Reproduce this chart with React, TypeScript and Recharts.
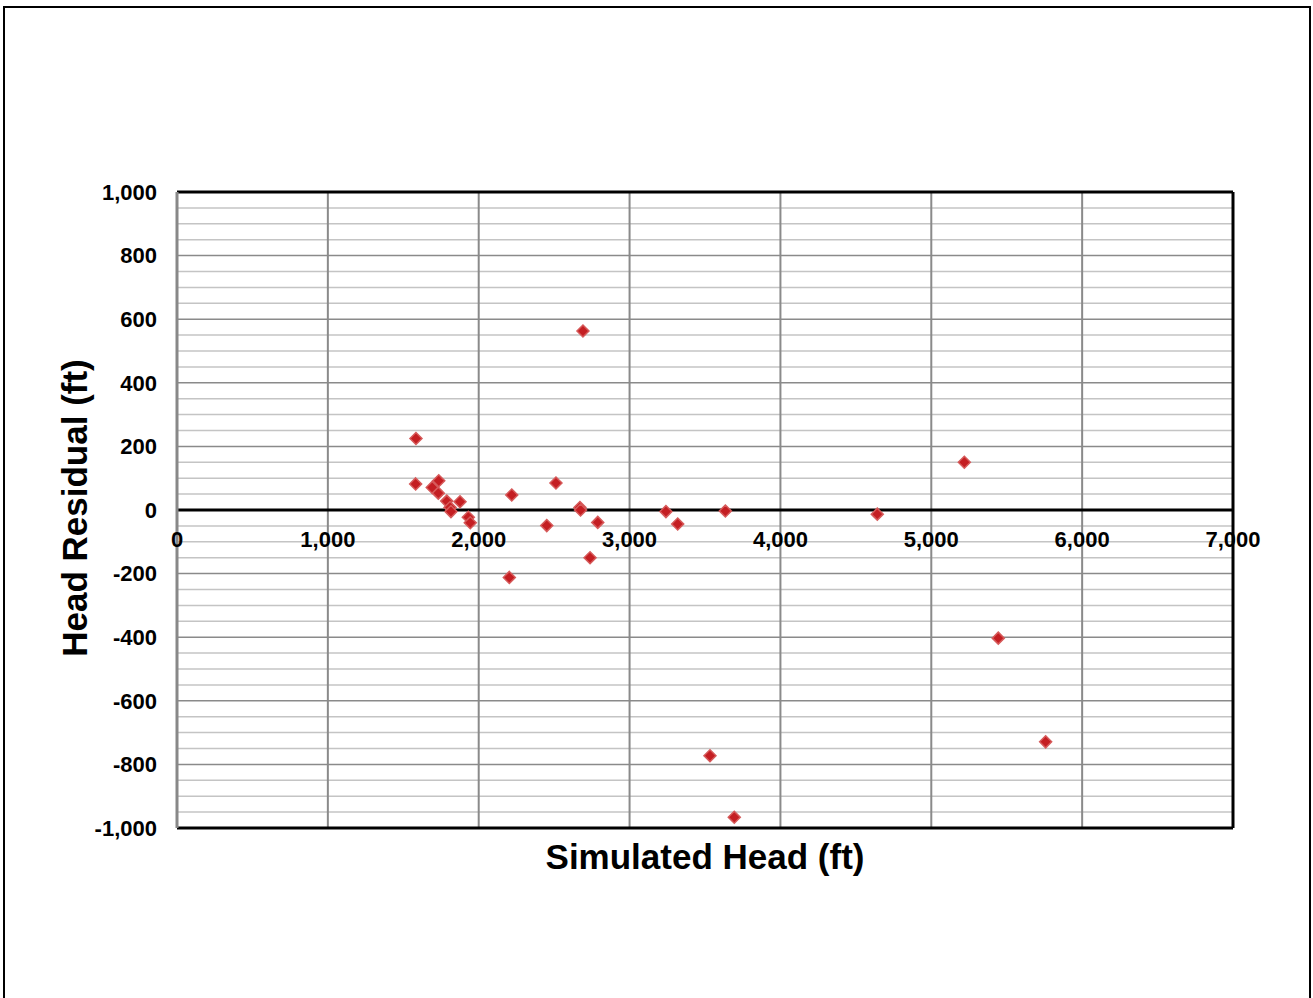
import { ScatterChart, Scatter, XAxis, YAxis, ReferenceLine } from 'recharts';

// simulated head (ft) and head residual (ft)
const simHead = [
  1584, 1582, 1692, 1735, 1732, 1788, 1810, 1816, 1876, 1931, 1944,
  2219, 2203, 2451, 2512, 2671, 2675, 2789, 2738, 2691,
  3241, 3319, 3635, 4642, 5219, 5444, 5758, 3533, 3694,
];
const residual = [
  225, 82, 71, 92, 53, 28, 8, -5, 26, -23, -40,
  47, -212, -49, 85, 8, 0, -39, -150, 563,
  -5, -44, -3, -13, 150, -403, -729, -773, -966,
];

const xTicks = [0, 1000, 2000, 3000, 4000, 5000, 6000, 7000];
const yTicks = [-1000, -800, -600, -400, -200, 0, 200, 400, 600, 800, 1000];
const yMinor = Array.from({ length: 39 }, (_, i) => -950 + i * 50).filter((v) => v % 200 !== 0);
const xMajor = [1000, 2000, 3000, 4000, 5000, 6000];
const yMajor = [-800, -600, -400, -200, 200, 400, 600, 800];

const data = simHead.map((x, i) => ({ x, y: residual[i] }));

const W = 1313;
const H = 998;
const PLOT_TOP = 192;
const PLOT_H = 636;
const Y_MIN = -1000;
const Y_MAX = 1000;
const zeroY = PLOT_TOP + (PLOT_H * (Y_MAX - 0)) / (Y_MAX - Y_MIN);

const FONT = '"Liberation Sans", Arial, sans-serif';
const fmt = (v: number) => v.toLocaleString('en-US');

const Diamond = (props: any) => {
  const { cx, cy } = props;
  const r = 6;
  return (
    <polygon
      points={`${cx},${cy - r} ${cx + r},${cy} ${cx},${cy + r} ${cx - r},${cy}`}
      fill="#c41e22"
      stroke="#d65a5a"
      strokeWidth={1.5}
    />
  );
};

const XTick = (props: any) => {
  const { x, payload } = props;
  return (
    <text x={x} y={zeroY + 37} textAnchor="middle" fontFamily={FONT} fontWeight="bold" fontSize={22} fill="#000">
      {fmt(payload.value)}
    </text>
  );
};

export default function App() {
  return (
    <div style={{ position: 'absolute', left: 0, top: 0, width: W, height: H, background: '#fff', overflow: 'hidden' }}>
      <div style={{ position: 'absolute', left: 3, top: 6, width: 1304, height: 1000, border: '2px solid #000' }} />
      <div style={{ position: 'absolute', left: 0, top: 0 }}>
        <ScatterChart width={W} height={H} margin={{ top: PLOT_TOP, right: 80, bottom: 150, left: 77 }}>
          <XAxis
            type="number"
            dataKey="x"
            domain={[0, 7000]}
            ticks={xTicks}
            axisLine={false}
            tickLine={false}
            height={20}
            tick={<XTick />}
          />
          <YAxis
            type="number"
            dataKey="y"
            domain={[Y_MIN, Y_MAX]}
            ticks={yTicks}
            width={100}
            axisLine={{ stroke: '#888', strokeWidth: 3 }}
            tickLine={false}
            tickSize={0}
            tickMargin={20}
            tickFormatter={fmt}
            tick={{ fill: '#000', fontFamily: FONT, fontWeight: 'bold', fontSize: 22 }}
          />
          {yMinor.map((v) => (
            <ReferenceLine key={'m' + v} y={v} stroke="#c4c4c4" strokeWidth={1.5} />
          ))}
          {yMajor.map((v) => (
            <ReferenceLine key={'y' + v} y={v} stroke="#8a8a8a" strokeWidth={1.5} />
          ))}
          {xMajor.map((v) => (
            <ReferenceLine key={'x' + v} x={v} stroke="#8a8a8a" strokeWidth={2} />
          ))}
          <ReferenceLine y={1000} stroke="#000" strokeWidth={3} />
          <ReferenceLine y={-1000} stroke="#000" strokeWidth={3} />
          <ReferenceLine x={7000} stroke="#000" strokeWidth={3} />
          <ReferenceLine y={0} stroke="#000" strokeWidth={3} />
          <Scatter data={data} shape={<Diamond />} isAnimationActive={false} />
        </ScatterChart>
      </div>
      <div
        style={{
          position: 'absolute',
          left: 705,
          top: 857,
          transform: 'translate(-50%, -50%)',
          fontFamily: FONT,
          fontWeight: 'bold',
          fontSize: 35,
          whiteSpace: 'nowrap',
        }}
      >
        Simulated Head (ft)
      </div>
      <div
        style={{
          position: 'absolute',
          left: 75,
          top: 508,
          transform: 'translate(-50%, -50%) rotate(-90deg)',
          fontFamily: FONT,
          fontWeight: 'bold',
          fontSize: 35,
          whiteSpace: 'nowrap',
        }}
      >
        Head Residual (ft)
      </div>
    </div>
  );
}
